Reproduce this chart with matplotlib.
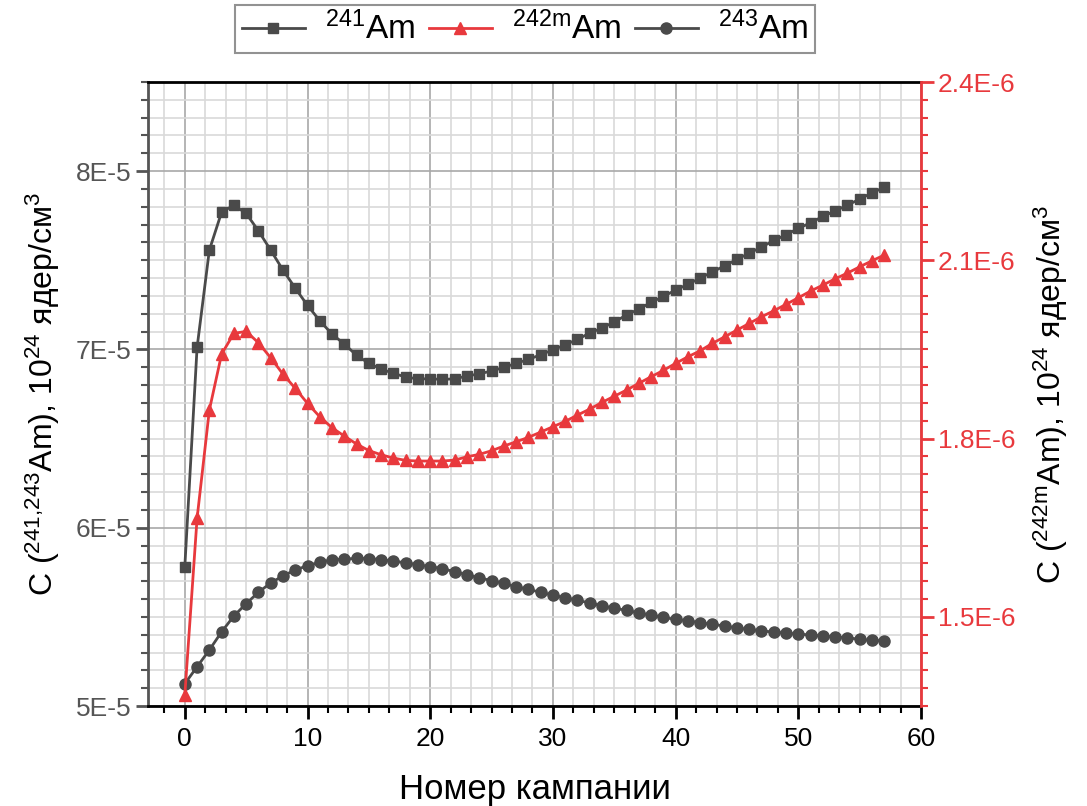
import matplotlib
matplotlib.use("Agg")
import matplotlib.pyplot as plt
from matplotlib.ticker import MultipleLocator, AutoMinorLocator, FuncFormatter

plt.rcParams["font.family"] = ["Liberation Sans", "DejaVu Sans"]
plt.rcParams["mathtext.fontset"] = "custom"
plt.rcParams["mathtext.rm"] = "Liberation Sans"
plt.rcParams["mathtext.it"] = "Liberation Sans:italic"

# campaign number
campaign = list(range(58))

# concentrations, 1E-5 nuclei/cm3 * 1E24 (left axis)
am241 = [5.781, 7.011, 7.557, 7.770, 7.809, 7.763, 7.665, 7.557, 7.445, 7.344,
         7.247, 7.161, 7.086, 7.030, 6.967, 6.922, 6.890, 6.866, 6.845, 6.835,
         6.835, 6.832, 6.835, 6.851, 6.863, 6.879, 6.899, 6.922, 6.944, 6.970,
         6.998, 7.026, 7.056, 7.092, 7.120, 7.154, 7.193, 7.226, 7.264, 7.297,
         7.333, 7.365, 7.400, 7.435, 7.469, 7.505, 7.540, 7.574, 7.611, 7.643,
         7.679, 7.710, 7.746, 7.777, 7.809, 7.843, 7.878, 7.909]
am243 = [5.125, 5.220, 5.314, 5.416, 5.505, 5.574, 5.638, 5.690, 5.730, 5.763,
         5.787, 5.806, 5.820, 5.824, 5.828, 5.827, 5.821, 5.813, 5.803, 5.792,
         5.782, 5.770, 5.753, 5.736, 5.719, 5.703, 5.688, 5.669, 5.654, 5.638,
         5.622, 5.607, 5.593, 5.578, 5.562, 5.548, 5.537, 5.522, 5.509, 5.497,
         5.486, 5.478, 5.467, 5.458, 5.449, 5.437, 5.430, 5.421, 5.415, 5.409,
         5.404, 5.398, 5.393, 5.387, 5.383, 5.374, 5.368, 5.366]
# 242mAm, 1E-6 (right axis)
am242m = [1.3685, 1.6658, 1.8480, 1.9422, 1.9770, 1.9804, 1.9612, 1.9359, 1.9085, 1.8845,
          1.8592, 1.8367, 1.8182, 1.8042, 1.7908, 1.7798, 1.7728, 1.7672, 1.7633, 1.7622,
          1.7622, 1.7622, 1.7638, 1.7694, 1.7734, 1.7795, 1.7874, 1.7946, 1.8020, 1.8109,
          1.8199, 1.8289, 1.8395, 1.8496, 1.8609, 1.8712, 1.8816, 1.8929, 1.9040, 1.9147,
          1.9265, 1.9376, 1.9477, 1.9602, 1.9713, 1.9825, 1.9938, 2.0049, 2.0150, 2.0258,
          2.0369, 2.0482, 2.0582, 2.0688, 2.0784, 2.0890, 2.0991, 2.1087]

GRAY = "#4a4a4a"
RED = "#e8393d"

fig = plt.figure(figsize=(10.87, 8.06), dpi=100)
ax = fig.add_axes([148 / 1087, 1 - 706 / 806, (921 - 148) / 1087, (706 - 82) / 806])
ax2 = ax.twinx()

l1, = ax.plot(campaign, [v * 1e-5 for v in am241], color=GRAY, lw=2, marker="s", ms=7.5, zorder=3)
l3, = ax.plot(campaign, [v * 1e-5 for v in am243], color=GRAY, lw=2, marker="o", ms=8, zorder=3)
l2, = ax2.plot(campaign, [v * 1e-6 for v in am242m], color=RED, lw=2, marker="^", ms=8.5, zorder=3)

ax.set_xlim(-3, 60)
ax.set_ylim(5e-5, 8.5e-5)
ax2.set_ylim(1.35e-6, 2.4e-6)

ax.xaxis.set_major_locator(MultipleLocator(10))
ax.xaxis.set_minor_locator(AutoMinorLocator(6))
ax.yaxis.set_major_locator(MultipleLocator(1e-5))
ax.yaxis.set_minor_locator(AutoMinorLocator(10))
ax2.yaxis.set_major_locator(MultipleLocator(0.3e-6))
ax2.yaxis.set_minor_locator(AutoMinorLocator(10))

ax.yaxis.set_major_formatter(FuncFormatter(lambda v, p: f"{v / 1e-5:.0f}E-5"))
ax2.yaxis.set_major_formatter(FuncFormatter(lambda v, p: f"{v / 1e-6:.1f}E-6"))

ax.set_axisbelow(True)
ax.grid(which="major", color="#a8a8a8", lw=1.2)
ax.grid(which="minor", color="#d9d9d9", lw=1.2)

ax.tick_params(axis="both", which="major", direction="out", length=9, width=2, labelsize=19)
ax.tick_params(axis="both", which="minor", direction="out", length=5, width=1.5)
ax.tick_params(axis="y", which="both", color="#555555", labelcolor="#555555", pad=3)
ax.tick_params(axis="x", which="both", top=False, pad=6)
ax2.tick_params(axis="y", which="major", direction="out", length=9, width=2, labelsize=19,
                color=RED, labelcolor=RED, pad=3)
ax2.tick_params(axis="y", which="minor", direction="out", length=5, width=1.5, color=RED)

for name in ("top", "bottom"):
    ax.spines[name].set_linewidth(2)
    ax.spines[name].set_color("black")
ax.spines["left"].set_linewidth(2)
ax.spines["left"].set_color("#555555")
ax2.spines["right"].set_linewidth(2)
ax2.spines["right"].set_color(RED)
ax2.spines["left"].set_visible(False)
ax2.spines["top"].set_visible(False)
ax2.spines["bottom"].set_visible(False)

ax.set_xlabel("Номер кампании", fontsize=25, labelpad=16)
ax.set_ylabel(r"C ($^{241{,}243}$Am), 10$^{24}$ ядер/см$^3$", fontsize=23, labelpad=10)
ax2.set_ylabel(r"C ($^{242\mathrm{m}}$Am), 10$^{24}$ ядер/см$^3$", fontsize=23, labelpad=12)

leg = fig.legend([l1, l2, l3],
                 [r"$^{241}$Am", r"$^{242\mathrm{m}}$Am", r"$^{243}$Am"],
                 loc="upper center", bbox_to_anchor=(525 / 1087, 1 - 5 / 806),
                 borderaxespad=0, ncol=3, fontsize=24, frameon=True, fancybox=False,
                 handlelength=1.9, handletextpad=0.6, columnspacing=0.4,
                 borderpad=0.2)
leg.get_frame().set_edgecolor("#777777")
leg.get_frame().set_linewidth(1.5)

fig.savefig("out.png", dpi=100)
